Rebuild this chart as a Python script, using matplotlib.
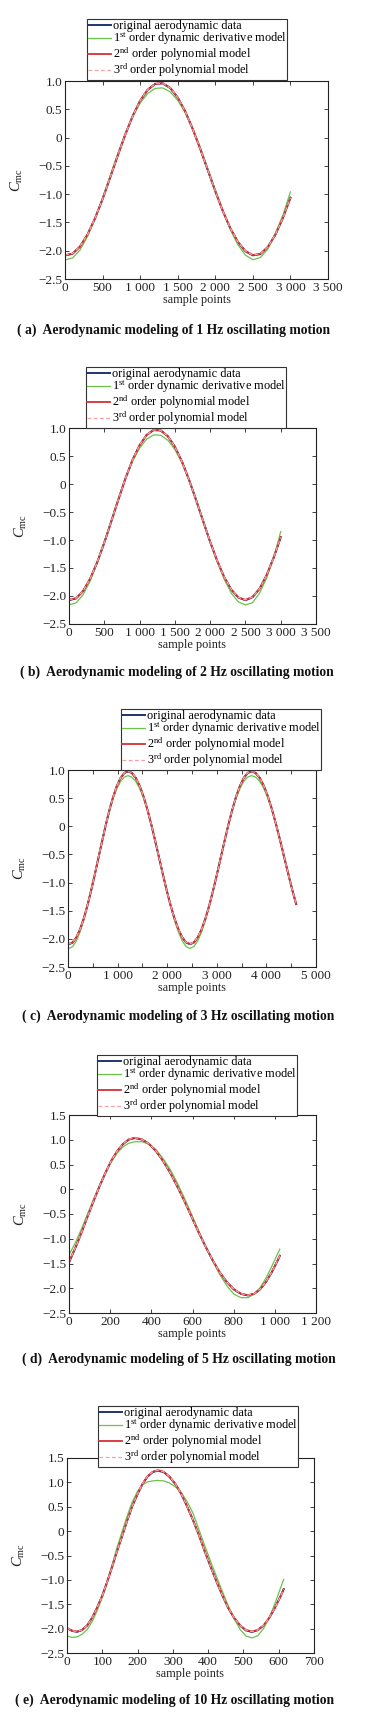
import matplotlib
matplotlib.use('Agg')
import matplotlib.pyplot as plt
from matplotlib.ticker import MultipleLocator, FuncFormatter

plt.rcParams['font.family'] = ['Liberation Serif', 'DejaVu Serif']
plt.rcParams['mathtext.fontset'] = 'custom'
plt.rcParams['mathtext.rm'] = 'Liberation Serif'
plt.rcParams['mathtext.it'] = 'Liberation Serif:italic'
plt.rcParams['axes.unicode_minus'] = False

# ---------------- data ----------------
series_labels = ['original aerodynamic data',
                 r'1$^{\rm st}$ order dynamic derivative model',
                 r'2$^{\rm nd}$ order polynomial model',
                 r'3$^{\rm rd}$ order polynomial model']

# (a) 1 Hz
a_x = list(range(0, 3001, 100))
a_orig = [-2.085, -2.055, -1.928, -1.714, -1.427, -1.087, -0.709, -0.324, 0.046, 0.378, 0.650, 0.843, 0.948, 0.958, 0.876, 0.707, 0.461, 0.151, -0.200, -0.574, -0.948, -1.298, -1.604, -1.845, -2.009, -2.082, -2.060, -1.934, -1.716, -1.420, -1.063]
a_first = [-2.163, -2.129, -1.987, -1.748, -1.433, -1.071, -0.680, -0.297, 0.058, 0.366, 0.610, 0.779, 0.870, 0.878, 0.807, 0.660, 0.441, 0.156, -0.176, -0.544, -0.925, -1.293, -1.625, -1.893, -2.078, -2.160, -2.12, -1.97, -1.69, -1.37, -0.96]
a_second = [-2.078, -2.049, -1.924, -1.712, -1.426, -1.087, -0.709, -0.324, 0.046, 0.379, 0.652, 0.846, 0.952, 0.962, 0.879, 0.709, 0.462, 0.151, -0.200, -0.574, -0.947, -1.296, -1.601, -1.841, -2.004, -2.076, -2.055, -1.931, -1.715, -1.420, -1.063]
a_third = [-2.078, -2.049, -1.924, -1.712, -1.426, -1.087, -0.709, -0.324, 0.046, 0.379, 0.652, 0.846, 0.952, 0.962, 0.879, 0.709, 0.462, 0.151, -0.200, -0.574, -0.947, -1.296, -1.601, -1.841, -2.004, -2.076, -2.055, -1.931, -1.715, -1.420, -1.063]

# (b) 2 Hz
b_x = list(range(0, 3001, 100))
b_orig = [-2.075, -2.044, -1.913, -1.693, -1.398, -1.048, -0.665, -0.275, 0.098, 0.428, 0.690, 0.875, 0.963, 0.955, 0.853, 0.665, 0.402, 0.079, -0.283, -0.661, -1.033, -1.373, -1.667, -1.889, -2.028, -2.076, -2.023, -1.871, -1.630, -1.315, -0.950]
b_first = [-2.158, -2.123, -1.977, -1.733, -1.411, -1.040, -0.646, -0.259, 0.098, 0.404, 0.639, 0.802, 0.878, 0.870, 0.782, 0.616, 0.379, 0.080, -0.266, -0.642, -1.023, -1.383, -1.703, -1.950, -2.106, -2.160, -2.12, -1.95, -1.68, -1.32, -0.85]
b_second = [-2.068, -2.038, -1.909, -1.691, -1.397, -1.048, -0.665, -0.275, 0.098, 0.429, 0.692, 0.878, 0.967, 0.958, 0.855, 0.666, 0.402, 0.079, -0.283, -0.661, -1.032, -1.371, -1.664, -1.885, -2.023, -2.070, -2.018, -1.868, -1.628, -1.315, -0.950]
b_third = [-2.068, -2.038, -1.909, -1.691, -1.397, -1.048, -0.665, -0.275, 0.098, 0.429, 0.692, 0.878, 0.967, 0.958, 0.855, 0.666, 0.402, 0.079, -0.283, -0.661, -1.032, -1.371, -1.664, -1.885, -2.023, -2.070, -2.018, -1.868, -1.628, -1.315, -0.950]

# (c) 3 Hz
c_x = [0, 20, 94, 169, 243, 318, 392, 466, 541, 615, 690, 764, 838, 913, 987, 1062, 1136, 1210,
       1288, 1366, 1444, 1523, 1601, 1679, 1757, 1835, 1913, 1991, 2069, 2148, 2226, 2304, 2382, 2460,
       2538, 2615, 2693, 2770, 2848, 2925, 3003, 3080, 3158, 3235, 3313, 3390, 3468, 3545, 3623, 3700,
       3783, 3865, 3948, 4030, 4113, 4195, 4278, 4360, 4443, 4525, 4600]
c_second = [-2.078,
            -2.090, -2.061, -1.973, -1.831, -1.640, -1.408, -1.142, -0.854, -0.555, -0.256, 0.032, 0.298, 0.530, 0.721, 0.863, 0.950, 0.980,
            0.950, 0.863, 0.721, 0.530, 0.298, 0.032, -0.256, -0.555, -0.854, -1.142, -1.408, -1.640, -1.831, -1.973, -2.061, -2.090,
            -2.061, -1.973, -1.831, -1.640, -1.408, -1.142, -0.854, -0.555, -0.256, 0.032, 0.298, 0.530, 0.721, 0.863, 0.950, 0.980,
            0.950, 0.863, 0.721, 0.530, 0.298, 0.032, -0.256, -0.555, -0.854, -1.142, -1.382]
c_orig = [-2.082,
          -2.095, -2.066, -1.976, -1.832, -1.640, -1.408, -1.142, -0.854, -0.555, -0.256, 0.032, 0.297, 0.528, 0.718, 0.859, 0.946, 0.976,
          0.946, 0.859, 0.718, 0.528, 0.297, 0.032, -0.256, -0.555, -0.854, -1.142, -1.408, -1.641, -1.834, -1.977, -2.066, -2.095,
          -2.066, -1.977, -1.834, -1.641, -1.408, -1.142, -0.854, -0.555, -0.256, 0.032, 0.297, 0.528, 0.718, 0.859, 0.946, 0.976,
          0.946, 0.859, 0.718, 0.528, 0.297, 0.032, -0.256, -0.555, -0.854, -1.142, -1.382]
c_first = [-2.160,
           -2.170, -2.137, -2.038, -1.880, -1.670, -1.419, -1.137, -0.838, -0.535, -0.240, 0.037, 0.287, 0.500, 0.672, 0.798, 0.874, 0.900,
           0.874, 0.798, 0.672, 0.500, 0.287, 0.037, -0.240, -0.535, -0.838, -1.137, -1.419, -1.670, -1.880, -2.038, -2.137, -2.170,
           -2.137, -2.038, -1.880, -1.670, -1.419, -1.137, -0.838, -0.535, -0.240, 0.037, 0.287, 0.500, 0.672, 0.798, 0.874, 0.900,
           0.874, 0.798, 0.672, 0.500, 0.287, 0.037, -0.240, -0.535, -0.838, -1.137, -1.370]
c_third = [-2.078,
           -2.090, -2.061, -1.973, -1.831, -1.640, -1.408, -1.142, -0.854, -0.555, -0.256, 0.032, 0.298, 0.530, 0.721, 0.863, 0.950, 0.980,
           0.950, 0.863, 0.721, 0.530, 0.298, 0.032, -0.256, -0.555, -0.854, -1.142, -1.408, -1.640, -1.831, -1.973, -2.061, -2.090,
           -2.061, -1.973, -1.831, -1.640, -1.408, -1.142, -0.854, -0.555, -0.256, 0.032, 0.298, 0.530, 0.721, 0.863, 0.950, 0.980,
           0.950, 0.863, 0.721, 0.530, 0.298, 0.032, -0.256, -0.555, -0.854, -1.142, -1.382]

# (d) 5 Hz
d_x = [0, 33, 62, 90, 119, 148, 177, 205, 234, 263, 291, 320, 354, 389, 423, 457, 492, 526, 561, 595,
       629, 664, 698, 732, 767, 801, 836, 870, 899, 928, 956, 985, 1014, 1024]
d_orig = [-1.48, -1.165, -0.862, -0.550, -0.240, 0.058, 0.331, 0.571, 0.768, 0.914, 1.004, 1.034, 1.004, 0.914, 0.768, 0.571, 0.331, 0.058, -0.240, -0.550, -0.862, -1.162, -1.437, -1.679, -1.878, -2.025, -2.116, -2.146, -2.116, -2.025, -1.878, -1.679, -1.437, -1.345]
d_first = [-1.33, -1.06, -0.79, -0.50, -0.21, 0.07, 0.33, 0.55, 0.73, 0.86, 0.93, 0.96, 0.96, 0.91, 0.80, 0.62, 0.40, 0.13, -0.18, -0.50, -0.83, -1.15, -1.45, -1.72, -1.95, -2.12, -2.19, -2.19, -2.12, -1.99, -1.80, -1.56, -1.30, -1.21]
d_second = [-1.47, -1.159, -0.860, -0.550, -0.240, 0.059, 0.333, 0.574, 0.772, 0.919, 1.010, 1.040, 1.010, 0.919, 0.772, 0.574, 0.333, 0.059, -0.240, -0.550, -0.860, -1.159, -1.433, -1.674, -1.872, -2.019, -2.110, -2.140, -2.110, -2.019, -1.872, -1.674, -1.433, -1.340]
d_third = [-1.47, -1.159, -0.860, -0.550, -0.240, 0.059, 0.333, 0.574, 0.772, 0.919, 1.010, 1.040, 1.010, 0.919, 0.772, 0.574, 0.333, 0.059, -0.240, -0.550, -0.860, -1.159, -1.433, -1.674, -1.872, -2.019, -2.110, -2.140, -2.110, -2.019, -1.872, -1.674, -1.433, -1.340]

# (e) 10 Hz
e_x = [0, 14, 28, 42, 57, 71, 85, 100, 114, 128, 142, 157, 171, 185, 200, 214, 228, 243, 257,
       274, 290, 307, 324, 340, 357, 374, 390, 407, 424, 441, 457, 474, 491, 507, 524,
       540, 557, 573, 589, 606, 614]
e_orig = [-1.99, -2.045, -2.066, -2.034, -1.938, -1.783, -1.576, -1.325, -1.038, -0.728, -0.405, -0.082, 0.227, 0.512, 0.760, 0.965, 1.117, 1.210, 1.242, 1.210, 1.117, 0.965, 0.760, 0.512, 0.227, -0.082, -0.405, -0.728, -1.038, -1.327, -1.578, -1.786, -1.940, -2.036, -2.068, -2.034, -1.938, -1.783, -1.576, -1.325, -1.190]
e_first = [-2.15, -2.18, -2.17, -2.12, -2.02, -1.86, -1.64, -1.36, -1.05, -0.69, -0.33, 0.01, 0.32, 0.60, 0.82, 0.95, 1.01, 1.03, 1.04, 1.03, 0.99, 0.91, 0.79, 0.61, 0.37, 0.03, -0.29, -0.62, -0.94, -1.25, -1.53, -1.80, -2.02, -2.15, -2.19, -2.15, -2.00, -1.78, -1.49, -1.15, -0.99]
e_second = [-1.99, -2.04, -2.060, -2.028, -1.934, -1.781, -1.575, -1.325, -1.038, -0.728, -0.405, -0.082, 0.228, 0.515, 0.765, 0.971, 1.124, 1.218, 1.250, 1.218, 1.124, 0.971, 0.765, 0.515, 0.228, -0.082, -0.405, -0.728, -1.038, -1.325, -1.575, -1.781, -1.934, -2.028, -2.060, -2.028, -1.934, -1.781, -1.575, -1.325, -1.190]
e_third = [-1.99, -2.04, -2.060, -2.028, -1.934, -1.781, -1.575, -1.325, -1.038, -0.728, -0.405, -0.082, 0.228, 0.515, 0.765, 0.971, 1.124, 1.218, 1.250, 1.218, 1.124, 0.971, 0.765, 0.515, 0.228, -0.082, -0.405, -0.728, -1.038, -1.325, -1.575, -1.781, -1.934, -2.028, -2.060, -2.028, -1.934, -1.781, -1.575, -1.325, -1.190]

captions = ['( a)  Aerodynamic modeling of 1 Hz oscillating motion',
            '( b)  Aerodynamic modeling of 2 Hz oscillating motion',
            '( c)  Aerodynamic modeling of 3 Hz oscillating motion',
            '( d)  Aerodynamic modeling of 5 Hz oscillating motion',
            '( e)  Aerodynamic modeling of 10 Hz oscillating motion']

# ---------------- layout ----------------
W, H = 365, 1722
fig = plt.figure(figsize=(W / 100, H / 100), dpi=100)

# leg = (left x, bottom y) of legend box in pixels
panels = [
    dict(x=a_x, s=(a_orig, a_first, a_second, a_third), box=(65, 328, 81, 279), xlim=(0, 3500), xmaj=500, xmin=None,
         ylim=(-2.5, 1.0), leg=(87, 80), cap=(174, 330)),
    dict(x=b_x, s=(b_orig, b_first, b_second, b_third), box=(69, 316, 428, 624), xlim=(0, 3500), xmaj=500, xmin=None,
         ylim=(-2.5, 1.0), leg=(86, 428), cap=(177, 672)),
    dict(x=c_x, s=(c_orig, c_first, c_second, c_third), box=(68, 316, 770, 967), xlim=(0, 5000), xmaj=1000, xmin=500,
         ylim=(-2.5, 1.0), leg=(121, 770), cap=(178, 1016)),
    dict(x=d_x, s=(d_orig, d_first, d_second, d_third), box=(69, 316, 1115, 1313), xlim=(0, 1200), xmaj=200, xmin=None,
         ylim=(-2.5, 1.5), leg=(97, 1116), cap=(179, 1359)),
    dict(x=e_x, s=(e_orig, e_first, e_second, e_third), box=(67, 314, 1458, 1653), xlim=(0, 700), xmaj=100, xmin=None,
         ylim=(-2.5, 1.5), leg=(98, 1467), cap=(175, 1700)),
]

colors = ['#1f3570', '#6cc24a', '#d42f35', '#f4a3a3']
widths = [1.4, 0.9, 1.3, 0.9]
styles = ['-', '-', '-', (0, (3, 2))]


def yfmt(v, pos):
    if abs(v) < 1e-9:
        return '0'
    return f'{v:.1f}'.replace('-', '\u2212')


def xfmt(v, pos):
    return f'{int(round(v)):,}'.replace(',', ' ')


for i, p in enumerate(panels):
    L, R, T, B = p['box']
    ax = fig.add_axes([L / W, 1 - B / H, (R - L) / W, (B - T) / H])
    for k in range(4):
        ax.plot(p['x'], p['s'][k], color=colors[k], lw=widths[k], ls=styles[k], label=series_labels[k])
    ax.set_xlim(*p['xlim'])
    ax.set_ylim(*p['ylim'])
    ax.xaxis.set_major_locator(MultipleLocator(p['xmaj']))
    if p['xmin']:
        ax.xaxis.set_minor_locator(MultipleLocator(p['xmin']))
    ax.yaxis.set_major_locator(MultipleLocator(0.5))
    ax.xaxis.set_major_formatter(FuncFormatter(xfmt))
    ax.yaxis.set_major_formatter(FuncFormatter(yfmt))
    ax.tick_params(which='both', direction='in', top=True, right=True, length=3, width=0.6,
                   labelsize=9.5, pad=2, colors='#222222')
    for sp in ax.spines.values():
        sp.set_linewidth(0.8)
        sp.set_color('#222222')
    ax.set_xlabel('sample points', fontsize=8.8, labelpad=0, color='#222222')
    ax.set_ylabel(r'$C_{\rm mc}$', fontsize=10.5, color='#222222')
    ax.yaxis.set_label_coords(-40 / (R - L), 0.5)
    lx, ly = p['leg']
    leg = ax.legend(loc='lower left', bbox_to_anchor=(lx / W, 1 - ly / H), bbox_transform=fig.transFigure,
                    fontsize=8.8, frameon=True, fancybox=False, edgecolor='#333333', framealpha=1,
                    borderpad=0.05, labelspacing=-0.12, handlelength=1.9, handletextpad=0.15,
                    borderaxespad=0)
    leg.get_frame().set_linewidth(0.8)
    leg.set_zorder(5)
    cx, cy = p['cap']
    fig.text(cx / W, 1 - cy / H, captions[i], ha='center', va='center', fontsize=9.8,
             fontweight='bold', color='#111111')

fig.savefig('out.png', dpi=100)
